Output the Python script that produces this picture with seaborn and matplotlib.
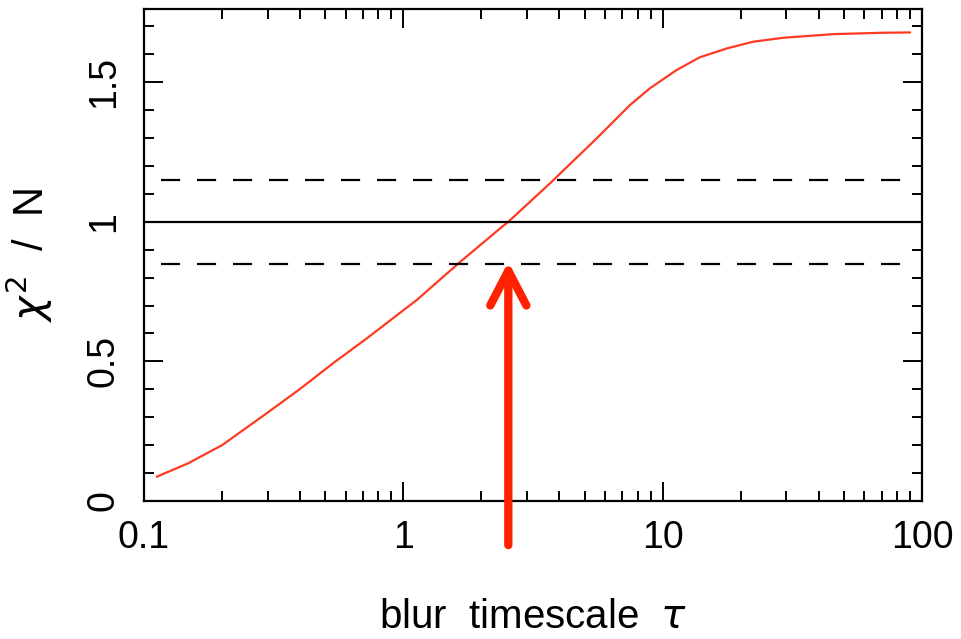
import numpy as np
import pandas as pd
import matplotlib
matplotlib.use("Agg")
import matplotlib.pyplot as plt
import seaborn as sns
from matplotlib.ticker import FixedLocator, NullFormatter, LogLocator

# ---- data ----
tau = [0.112, 0.148, 0.20, 0.285, 0.394, 0.546, 0.722, 1.127, 1.66, 2.36, 2.54,
       3.73, 5.57, 7.48, 8.93, 11.3, 13.9, 17.7, 22.4, 29.2, 45.5, 71.0, 90.0]
chi2n = [0.087, 0.135, 0.200, 0.302, 0.397, 0.499, 0.582, 0.720, 0.857, 0.976, 1.0,
         1.143, 1.299, 1.418, 1.478, 1.543, 1.589, 1.621, 1.645, 1.659, 1.672, 1.677, 1.678]
ref_level = 1.0
band_levels = [0.85, 1.15]
band_extent = [0.1163, 83.7]
arrow_tau = 2.54
arrow_from = -0.158
arrow_to = 0.857
xticks = [0.1, 1, 10, 100]
xticklabels = ["0.1", "1", "10", "100"]
yticks = [0, 0.5, 1, 1.5]
yticklabels = ["0", "0.5", "1", "1.5"]

sns.set_style("ticks")
plt.rcParams['font.family'] = ['Liberation Sans', 'DejaVu Sans']
plt.rcParams['mathtext.fontset'] = 'dejavusans'
plt.rcParams['text.color'] = 'black'
plt.rcParams['axes.labelcolor'] = 'black'

fig = plt.figure(figsize=(9.61, 6.39), dpi=100)
ax = fig.add_axes([144/961, (639-501)/639, 778/961, 492/639])

df = pd.DataFrame({"tau": tau, "chi2n": chi2n})
sns.lineplot(data=df, x="tau", y="chi2n", ax=ax, color="#ff3a22", lw=1.6,
             estimator=None, sort=True)

ax.axhline(ref_level, color="black", lw=1.6)
for lv in band_levels:
    ax.plot(band_extent, [lv, lv], color="black", lw=1.6, dashes=(8.6, 7.6))

ax.set_xscale("log")
ax.set_xlim(0.1, 100)
ax.set_ylim(0, 1.762)

ax.annotate("", xy=(arrow_tau, arrow_to), xytext=(arrow_tau, arrow_from),
            xycoords="data", textcoords="data", annotation_clip=False,
            arrowprops=dict(arrowstyle="->,head_length=2.5,head_width=1.3",
                            color="#ff2200", lw=6, shrinkA=0, shrinkB=0,
                            capstyle="round", joinstyle="round", mutation_scale=10,
                            clip_on=False))

ax.xaxis.set_major_locator(FixedLocator(xticks))
ax.set_xticklabels(xticklabels)
ax.xaxis.set_minor_locator(LogLocator(base=10, subs=np.arange(2, 10)))
ax.xaxis.set_minor_formatter(NullFormatter())
ax.yaxis.set_major_locator(FixedLocator(yticks))
ax.set_yticklabels(yticklabels, rotation=90, va="center")
ax.yaxis.set_minor_locator(FixedLocator(np.round(np.arange(0, 1.76, 0.1), 2)))

for s in ax.spines.values():
    s.set_linewidth(1.6)
    s.set_color("black")
    s.set_visible(True)

ax.tick_params(which="both", direction="in", top=True, right=True, colors="black",
               labelcolor="black")
ax.tick_params(which="major", length=14, width=1.4, labelsize=27, pad=14)
ax.tick_params(which="minor", length=7.5, width=1.4)
ax.tick_params(axis="y", which="major", pad=16)

ax.set_xlabel(r"blur  timescale  $\tau$", fontsize=29, labelpad=30, color="black")
ax.set_ylabel(r"$\chi^2$  /  N", fontsize=30, labelpad=22, color="black")

fig.savefig("out.png", dpi=100, facecolor="white")
